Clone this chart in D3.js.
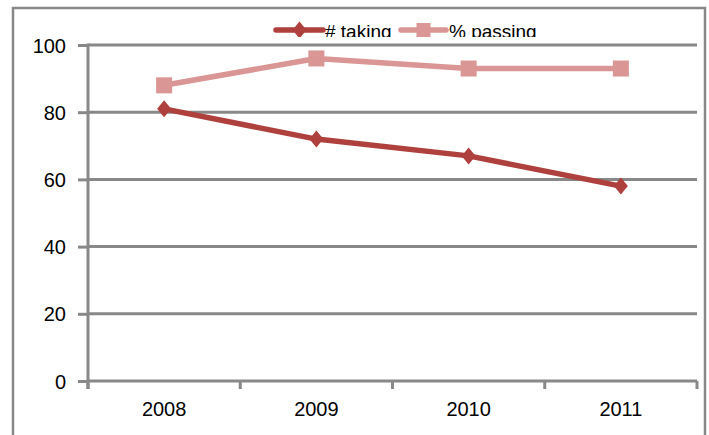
<!DOCTYPE html>
<html>
<head>
<meta charset="utf-8">
<script src="https://cdn.jsdelivr.net/npm/d3@7"></script>
<style>
  html, body { margin: 0; padding: 0; background: #fff; }
  svg { display: block; }
  text { font-family: "Liberation Sans", Arial, sans-serif; fill: #000; }
</style>
</head>
<body>
<svg id="chart" width="709" height="435"></svg>
<script>
// Exam participation by year
const years = ["2008", "2009", "2010", "2011"];
const taking = [81, 72, 67, 58];
const passing = [88, 96, 93, 93];
const yTicks = [0, 20, 40, 60, 80, 100];
const seriesNames = ["# taking", "% passing"];

const W = 709, H = 435;
const plot = { left: 88, right: 697, top: 45, bottom: 381 };
const grey = "#888888";
const darkRed = "#AE403D";
const pink = "#D99694";

const svg = d3.select("#chart");

const x = d3.scaleBand().domain(years).range([plot.left, plot.right]).paddingInner(0).paddingOuter(0);
const y = d3.scaleLinear().domain([0, 100]).range([plot.bottom, plot.top]);

// outer chart frame
svg.append("rect")
  .attr("x", 13).attr("y", 8)
  .attr("width", 705 - 13).attr("height", H + 20)
  .attr("fill", "none").attr("stroke", grey).attr("stroke-width", 2.5);

// horizontal gridlines
svg.append("g").selectAll("line").data(yTicks).join("line")
  .attr("x1", plot.left).attr("x2", plot.right)
  .attr("y1", d => y(d)).attr("y2", d => y(d))
  .attr("stroke", grey).attr("stroke-width", 3);

// y axis
const yAxis = svg.append("g").attr("transform", `translate(${plot.left},0)`)
  .call(d3.axisLeft(y).tickValues(yTicks).tickSize(10).tickPadding(12));
yAxis.select(".domain").remove();
yAxis.selectAll(".tick line").attr("stroke", grey).attr("stroke-width", 3);
yAxis.selectAll(".tick text").style("font-size", "20px")
  .style("font-family", "'Liberation Sans', Arial, sans-serif").attr("dy", "0.35em");
svg.append("line")
  .attr("x1", plot.left).attr("x2", plot.left)
  .attr("y1", plot.top - 1.5).attr("y2", plot.bottom + 8)
  .attr("stroke", grey).attr("stroke-width", 3);

// x axis: labels centred in bands, ticks at band boundaries
const xAxis = svg.append("g").attr("transform", `translate(0,${plot.bottom})`)
  .call(d3.axisBottom(x).tickSize(0).tickPadding(21));
xAxis.select(".domain").remove();
xAxis.selectAll(".tick text").style("font-size", "20px")
  .style("font-family", "'Liberation Sans', Arial, sans-serif");
const boundaries = years.map(d => x(d)).concat([x(years[years.length - 1]) + x.bandwidth()]);
svg.append("g").selectAll("line").data(boundaries).join("line")
  .attr("x1", d => d).attr("x2", d => d)
  .attr("y1", plot.bottom).attr("y2", plot.bottom + 8)
  .attr("stroke", grey).attr("stroke-width", 3);

const cx = d => x(d) + x.bandwidth() / 2;
const line = d3.line().x(d => cx(d.year)).y(d => y(d.v));

const passData = years.map((yr, i) => ({ year: yr, v: passing[i] }));
const takeData = years.map((yr, i) => ({ year: yr, v: taking[i] }));

// % passing series
svg.append("path").datum(passData)
  .attr("d", line).attr("fill", "none")
  .attr("stroke", pink).attr("stroke-width", 5.5).attr("stroke-linejoin", "round");
svg.append("g").selectAll("rect").data(passData).join("rect")
  .attr("x", d => cx(d.year) - 8).attr("y", d => y(d.v) - 8)
  .attr("width", 16).attr("height", 16)
  .attr("fill", pink);

// # taking series
svg.append("path").datum(takeData)
  .attr("d", line).attr("fill", "none")
  .attr("stroke", darkRed).attr("stroke-width", 5.5).attr("stroke-linejoin", "round");
const diamond = "M0,-8.5L7,0L0,8.5L-7,0Z";
svg.append("g").selectAll("path").data(takeData).join("path")
  .attr("d", diamond)
  .attr("transform", d => `translate(${cx(d.year)},${y(d.v)})`)
  .attr("fill", darkRed);

// legend (clipped at its lower edge)
svg.append("defs").append("clipPath").attr("id", "legendClip")
  .append("rect").attr("x", 0).attr("y", 0).attr("width", W).attr("height", 37);
const legend = svg.append("g").attr("clip-path", "url(#legendClip)");
const legendItems = [
  { name: seriesNames[0], color: darkRed, x0: 276, x1: 323, tx: 325, marker: "diamond" },
  { name: seriesNames[1], color: pink, x0: 401, x1: 446, tx: 449, marker: "square" }
];
const ly = 30;
legendItems.forEach(it => {
  legend.append("line")
    .attr("x1", it.x0).attr("x2", it.x1).attr("y1", ly).attr("y2", ly)
    .attr("stroke", it.color).attr("stroke-width", 5.5).attr("stroke-linecap", "round");
  const mx = (it.x0 + it.x1) / 2;
  if (it.marker === "diamond") {
    legend.append("path").attr("d", diamond)
      .attr("transform", `translate(${mx},${ly})`).attr("fill", it.color);
  } else {
    legend.append("rect").attr("x", mx - 7).attr("y", ly - 7)
      .attr("width", 14).attr("height", 14).attr("fill", it.color);
  }
  legend.append("text").attr("x", it.tx).attr("y", 37.5)
    .style("font-size", "19px").text(it.name);
});
</script>
</body>
</html>
